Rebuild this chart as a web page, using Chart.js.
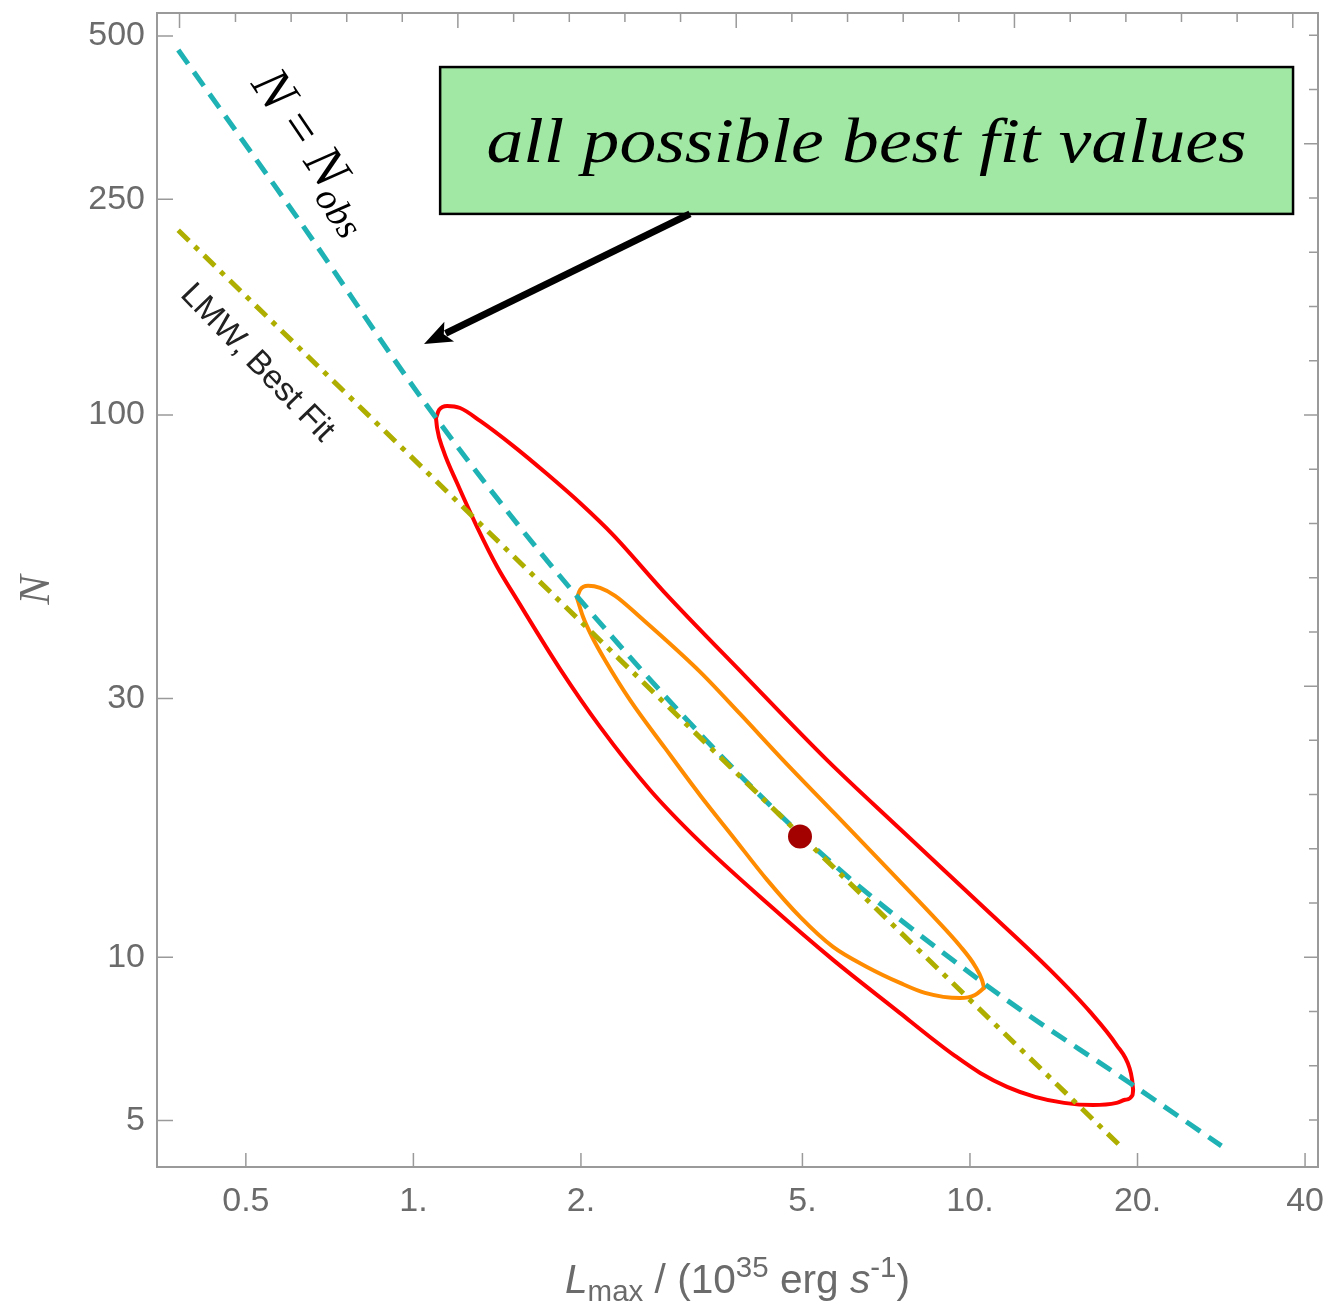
<!DOCTYPE html>
<html lang="en">
<head>
<meta charset="UTF-8">
<title>N vs Lmax contours</title>
<style>
    html, body {
        margin: 0;
        padding: 0;
        background: #ffffff;
    }
    .chart-box {
        width: 1330px;
        height: 1302px;
        position: relative;
    }
</style>
</head>
<body>
<div class="chart-box"><canvas id="fitChart"></canvas></div>
<script src="https://cdn.jsdelivr.net/npm/chart.js"></script>
<script>
// tick marks and labels
var xTickValues = [0.5, 1, 2, 5, 10, 20, 40];
var xTickLabels = ['0.5', '1.', '2.', '5.', '10.', '20.', '40'];
var yTickValues = [5, 10, 30, 100, 250, 500];
var yTickLabels = ['5', '10', '30', '100', '250', '500'];
var topTickValues = [0.380, 0.479, 0.603, 0.759, 0.955, 1.202, 1.514, 1.906, 2.399, 3.020, 3.802,
                     4.786, 6.026, 7.586, 9.550, 12.02, 15.14, 19.06, 23.99, 30.20, 38.02];
var rightTickValues = [5.012, 6.310, 7.943, 10, 12.59, 15.85, 19.95, 25.12, 31.62, 39.81, 50.12,
                       63.10, 79.43, 100, 125.9, 158.5, 199.5, 251.2, 316.2, 398.1, 501.2];

// N = N_obs curve
var nObsX = [0.378, 0.626, 1.072, 1.993, 4.95, 10.56, 19.35, 28.3];
var nObsY = [471, 227, 102.1, 45.6, 16.88, 8.97, 5.87, 4.49];

// LMW best fit line
var lmwX = [0.378, 18.7];
var lmwY = [219, 4.47];

// outer contour (red), upper and lower branches between the two tips
var outerUpX = [1.098, 1.112, 1.150, 1.213, 1.318, 1.511, 1.739, 1.993, 2.284, 2.809, 3.945,
                5.537, 7.489, 10.43, 13.93, 16.44, 18.34, 19.35, 19.56, 19.64];
var outerUpY = [98.7, 102.2, 103.9, 103.0, 97.5, 87.7, 77.8, 68.8, 60.1, 47.4, 33.0,
                23.1, 17.24, 12.54, 9.48, 7.93, 6.89, 6.25, 5.94, 5.69];
var outerLowX = [1.098, 1.103, 1.131, 1.198, 1.301, 1.414, 1.536, 1.835, 2.165, 2.662, 3.274,
                 4.320, 5.676, 7.489, 8.475, 9.398, 10.43, 11.66, 13.09, 14.76, 16.64, 18.34,
                 19.00, 19.59, 19.64];
var outerLowY = [98.7, 94.6, 86.2, 74.9, 62.2, 52.5, 45.6, 34.0, 26.6, 20.35, 16.32,
                 12.59, 9.89, 7.89, 7.13, 6.58, 6.12, 5.77, 5.53, 5.39, 5.34, 5.39,
                 5.46, 5.57, 5.69];

// inner contour (orange)
var innerUpX = [1.968, 1.993, 2.060, 2.165, 2.304, 2.554, 3.274, 3.864, 4.615, 5.723, 7.092,
                8.475, 9.598, 10.21, 10.51, 10.60];
var innerUpY = [46.0, 47.6, 48.4, 48.0, 46.4, 42.4, 33.6, 28.1, 23.1, 18.38, 14.61,
                12.07, 10.49, 9.64, 9.08, 8.78];
var innerLowX = [1.968, 2.018, 2.094, 2.210, 2.451, 2.833, 3.274, 3.753, 4.320, 4.952, 5.676,
                 6.529, 7.489, 8.301, 9.598, 10.21, 10.60];
var innerLowY = [46.0, 42.4, 39.0, 35.3, 29.8, 24.3, 19.9, 16.67, 13.89, 11.87, 10.45,
                 9.60, 8.97, 8.60, 8.41, 8.52, 8.78];

// best fit point
var bestX = [4.95];
var bestY = [16.7];

// annotation anchors, in data units
var notes = {
    box: { x1: 1.117, x2: 38.06, y1: 438, y2: 234.8 },
    boxText: { x: 6.52, y: 292.8, text: 'all possible best fit values' },
    arrow: { x1: 3.14, y1: 234.8, x2: 1.045, y2: 135.2 },
    nObs: { x: 0.509, y: 408, angle: 56 },
    lmw: { x: 0.524, y: 124.7, angle: 46 }
};

function pts(xs, ys) {
    return xs.map(function (x, i) { return { x: x, y: ys[i] }; });
}

var frameGray = '#9a9a9a';
var labelGray = '#6b6b6b';

var framePlugin = {
    id: 'frameAndNotes',
    afterDraw: function (chart) {
        var ctx = chart.ctx;
        var a = chart.chartArea;
        var sx = chart.scales.x;
        var sy = chart.scales.y;
        ctx.save();

        // frame
        ctx.strokeStyle = frameGray;
        ctx.lineWidth = 2;
        ctx.strokeRect(a.left, a.top, a.right - a.left, a.bottom - a.top);

        // inward ticks
        ctx.lineWidth = 1.5;
        ctx.beginPath();
        yTickValues.forEach(function (v) {
            var p = sy.getPixelForValue(v);
            ctx.moveTo(a.left, p); ctx.lineTo(a.left + 16, p);
        });
        xTickValues.forEach(function (v) {
            var p = sx.getPixelForValue(v);
            ctx.moveTo(p, a.bottom); ctx.lineTo(p, a.bottom - 14);
        });
        topTickValues.forEach(function (v, i) {
            var p = sx.getPixelForValue(v);
            ctx.moveTo(p, a.top); ctx.lineTo(p, a.top + (i % 5 === 0 ? 15 : 9));
        });
        rightTickValues.forEach(function (v, i) {
            var p = sy.getPixelForValue(v);
            ctx.moveTo(a.right, p); ctx.lineTo(a.right - ((i + 2) % 5 === 0 ? 14 : 9), p);
        });
        ctx.stroke();

        // green note box
        var bx1 = sx.getPixelForValue(notes.box.x1), bx2 = sx.getPixelForValue(notes.box.x2);
        var by1 = sy.getPixelForValue(notes.box.y1), by2 = sy.getPixelForValue(notes.box.y2);
        ctx.fillStyle = '#a1e8a4';
        ctx.fillRect(bx1, by1, bx2 - bx1, by2 - by1);
        ctx.strokeStyle = '#000';
        ctx.lineWidth = 2.5;
        ctx.strokeRect(bx1, by1, bx2 - bx1, by2 - by1);

        ctx.save();
        ctx.font = 'italic 64px "Liberation Serif", serif';
        var tw = ctx.measureText(notes.boxText.text).width;
        ctx.translate(sx.getPixelForValue(notes.boxText.x), sy.getPixelForValue(notes.boxText.y));
        ctx.scale(760 / tw, 1);
        ctx.fillStyle = '#000';
        ctx.textAlign = 'center';
        ctx.textBaseline = 'alphabetic';
        ctx.fillText(notes.boxText.text, 0, 0);
        ctx.restore();

        // arrow
        var ax1 = sx.getPixelForValue(notes.arrow.x1), ay1 = sy.getPixelForValue(notes.arrow.y1);
        var ax2 = sx.getPixelForValue(notes.arrow.x2), ay2 = sy.getPixelForValue(notes.arrow.y2);
        var ang = Math.atan2(ay2 - ay1, ax2 - ax1);
        var head = 28, half = 11;
        var hx = ax2 - head * Math.cos(ang), hy = ay2 - head * Math.sin(ang);
        ctx.strokeStyle = '#000';
        ctx.lineWidth = 7;
        ctx.beginPath();
        ctx.moveTo(ax1, ay1);
        ctx.lineTo(hx + 4 * Math.cos(ang), hy + 4 * Math.sin(ang));
        ctx.stroke();
        ctx.fillStyle = '#000';
        ctx.beginPath();
        ctx.moveTo(ax2, ay2);
        ctx.lineTo(hx + half * Math.sin(ang), hy - half * Math.cos(ang));
        ctx.lineTo(hx + 6 * Math.cos(ang), hy + 6 * Math.sin(ang));
        ctx.lineTo(hx - half * Math.sin(ang), hy + half * Math.cos(ang));
        ctx.closePath();
        ctx.fill();

        // N = N_obs label
        ctx.save();
        ctx.translate(sx.getPixelForValue(notes.nObs.x), sy.getPixelForValue(notes.nObs.y));
        ctx.rotate(notes.nObs.angle * Math.PI / 180);
        ctx.fillStyle = '#000';
        ctx.textAlign = 'left';
        ctx.textBaseline = 'alphabetic';
        var cx = 0;
        ctx.font = 'italic 54px "Liberation Serif", serif';
        ctx.fillText('N', cx, 0); cx += ctx.measureText('N').width;
        ctx.font = '54px "Liberation Serif", serif';
        ctx.fillText(' = ', cx, 0); cx += ctx.measureText(' = ').width;
        ctx.font = 'italic 54px "Liberation Serif", serif';
        ctx.fillText('N', cx, 0); cx += ctx.measureText('N').width;
        ctx.font = 'italic 38px "Liberation Serif", serif';
        ctx.fillText('obs', cx, 11);
        ctx.restore();

        // LMW label
        ctx.save();
        ctx.translate(sx.getPixelForValue(notes.lmw.x), sy.getPixelForValue(notes.lmw.y));
        ctx.rotate(notes.lmw.angle * Math.PI / 180);
        ctx.fillStyle = '#222';
        ctx.font = '33px "Liberation Sans", Arial, sans-serif';
        ctx.textAlign = 'center';
        ctx.textBaseline = 'middle';
        ctx.fillText('LMW, Best Fit', 0, 0);
        ctx.restore();

        // y title
        ctx.save();
        ctx.translate(37, (a.top + a.bottom) / 2);
        ctx.rotate(-Math.PI / 2);
        ctx.fillStyle = labelGray;
        ctx.font = 'italic 44px "Liberation Serif", serif';
        ctx.textAlign = 'center';
        ctx.textBaseline = 'middle';
        ctx.fillText('N', 0, 0);
        ctx.restore();

        // x title with sub/superscripts
        var parts = [
            { t: 'L', f: 'italic 40px', dy: 0 },
            { t: 'max', f: '29px', dy: 8 },
            { t: ' / (10', f: '40px', dy: 0 },
            { t: '35', f: '29px', dy: -16 },
            { t: ' erg ', f: '40px', dy: 0 },
            { t: 's', f: 'italic 40px', dy: 0 },
            { t: '-1', f: '29px', dy: -16 },
            { t: ')', f: '40px', dy: 0 }
        ];
        var fam = ' "Liberation Sans", Arial, sans-serif';
        var total = 0;
        parts.forEach(function (p) { ctx.font = p.f + fam; p.w = ctx.measureText(p.t).width; total += p.w; });
        var k = 345 / total;
        ctx.save();
        ctx.translate((a.left + a.right) / 2, 1293);
        ctx.scale(k, 1);
        ctx.fillStyle = labelGray;
        ctx.textAlign = 'left';
        ctx.textBaseline = 'alphabetic';
        var px = -total / 2;
        parts.forEach(function (p) {
            ctx.font = p.f + fam;
            ctx.fillText(p.t, px, p.dy);
            px += p.w;
        });
        ctx.restore();

        ctx.restore();
    }
};

function noPadding(s) {
    s.paddingTop = 0;
    s.paddingBottom = 0;
    s.paddingLeft = 0;
    s.paddingRight = 0;
}

function contour(label, xs, ys, color, order) {
    return {
        label: label,
        data: pts(xs, ys),
        showLine: true,
        borderColor: color,
        borderWidth: 4,
        borderJoinStyle: 'round',
        borderCapStyle: 'round',
        pointRadius: 0,
        cubicInterpolationMode: 'monotone',
        order: order
    };
}

var ctx = document.getElementById('fitChart').getContext('2d');
var tickFont = { family: '"Liberation Sans", Arial, sans-serif', size: 34 };

var fitChart = new Chart(ctx, {
    type: 'scatter',
    data: {
        datasets: [{
            label: 'best fit',
            data: pts(bestX, bestY),
            pointRadius: 12,
            pointBackgroundColor: '#a30000',
            pointBorderWidth: 0,
            showLine: false,
            order: 0
        }, {
            label: 'LMW, Best Fit',
            data: pts(lmwX, lmwY),
            showLine: true,
            borderColor: '#aeae00',
            borderWidth: 5,
            borderDash: [15, 8, 5, 8],
            pointRadius: 0,
            order: 1
        }, {
            label: 'N = Nobs',
            data: pts(nObsX, nObsY),
            showLine: true,
            borderColor: '#1fb2b4',
            borderWidth: 5,
            borderDash: [17, 10],
            pointRadius: 0,
            cubicInterpolationMode: 'monotone',
            order: 2
        },
        contour('inner contour, upper', innerUpX, innerUpY, '#ff8c00', 3),
        contour('inner contour, lower', innerLowX, innerLowY, '#ff8c00', 3),
        contour('outer contour, upper', outerUpX, outerUpY, '#ff0000', 4),
        contour('outer contour, lower', outerLowX, outerLowY, '#ff0000', 4)]
    },
    options: {
        responsive: true,
        maintainAspectRatio: false,
        animation: false,
        layout: { padding: { top: 13, right: 12, left: 0, bottom: 0 } },
        plugins: {
            legend: { display: false },
            tooltip: { enabled: false }
        },
        scales: {
            x: {
                type: 'logarithmic',
                position: 'bottom',
                bounds: 'data',
                min: 0.3462,
                max: 42.2,
                grid: { display: false, drawTicks: false },
                border: { display: false },
                afterBuildTicks: function (s) { s.ticks = xTickValues.map(function (v) { return { value: v }; }); },
                afterFit: function (s) { s.height = 135; noPadding(s); },
                ticks: {
                    autoSkip: false,
                    maxRotation: 0,
                    padding: 14,
                    color: labelGray,
                    font: tickFont,
                    callback: function (v, i) { return xTickLabels[i]; }
                }
            },
            y: {
                type: 'logarithmic',
                position: 'left',
                bounds: 'data',
                min: 4.105,
                max: 551,
                grid: { display: false, drawTicks: false },
                border: { display: false },
                afterBuildTicks: function (s) { s.ticks = yTickValues.map(function (v) { return { value: v }; }); },
                afterFit: function (s) { s.width = 157; noPadding(s); },
                ticks: {
                    autoSkip: false,
                    padding: 12,
                    color: labelGray,
                    font: tickFont,
                    callback: function (v, i) { return yTickLabels[i]; }
                }
            }
        }
    },
    plugins: [framePlugin]
});
</script>
</body>
</html>
